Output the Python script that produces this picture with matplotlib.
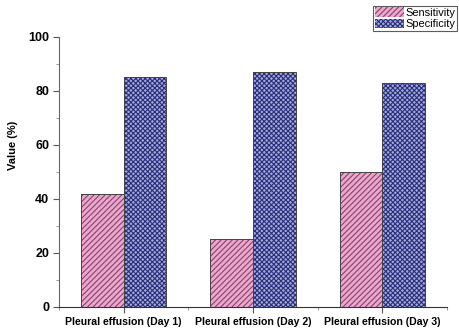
import matplotlib.pyplot as plt
import numpy as np
from matplotlib.ticker import MultipleLocator

# Данные
categories = ['Pleural effusion (Day 1)', 'Pleural effusion (Day 2)', 'Pleural effusion (Day 3)']
sensitivity = [42, 25, 50]
specificity = [85, 87, 83]

plt.rcParams['font.family'] = ['Liberation Sans', 'DejaVu Sans']
plt.rcParams['hatch.linewidth'] = 0.8

fig = plt.figure(figsize=(4.6, 3.29), dpi=100)
ax = fig.add_axes([0.128, 0.067, 0.844, 0.821])

x = np.arange(1, len(categories) + 1)
w = 0.33

# Штриховка рисуется цветом края, поэтому сначала заливка со штриховкой, затем контур
ax.bar(x - w / 2, sensitivity, w, color='#eaa9cb', edgecolor='#8a3f74', hatch='//////',
       linewidth=0, label='Sensitivity')
ax.bar(x + w / 2, specificity, w, color='#a3a9dc', edgecolor='#2a2f7a', hatch='xxxxxxx',
       linewidth=0, label='Specificity')
ax.bar(x - w / 2, sensitivity, w, fill=False, edgecolor='#444444', linewidth=0.7)
ax.bar(x + w / 2, specificity, w, fill=False, edgecolor='#444444', linewidth=0.7)

ax.set_xlim(0.5, 3.5)
ax.set_ylim(0, 100)
ax.set_xticks(x)
ax.set_xticklabels(categories, fontsize=7.6, fontweight='bold')
ax.xaxis.set_minor_locator(MultipleLocator(1, offset=0.5))
ax.yaxis.set_major_locator(MultipleLocator(20))
ax.yaxis.set_minor_locator(MultipleLocator(10))
ax.tick_params(axis='y', labelsize=9, width=0.8, length=4, color='#555555', pad=3)
ax.tick_params(axis='x', width=0.8, length=4, color='#555555')
for lbl in ax.get_yticklabels():
    lbl.set_fontweight('bold')
ax.tick_params(which='minor', length=2.5, color='#888888')
ax.set_ylabel('Value (%)', fontsize=8, fontweight='bold')
ax.yaxis.set_label_coords(-0.105, 0.6)

ax.spines['top'].set_visible(False)
ax.spines['right'].set_visible(False)
ax.spines['left'].set_color('#666666')
ax.spines['bottom'].set_color('#333333')

leg = ax.legend(loc='upper left', bbox_to_anchor=(0.81, 1.115), fontsize=7.9,
                frameon=True, fancybox=False, edgecolor='#333333',
                borderpad=0.15, handlelength=2.6, handleheight=1.0,
                handletextpad=0.2, labelspacing=0.05, borderaxespad=0)
leg.get_frame().set_linewidth(0.8)

plt.savefig('out.png', dpi=100)
